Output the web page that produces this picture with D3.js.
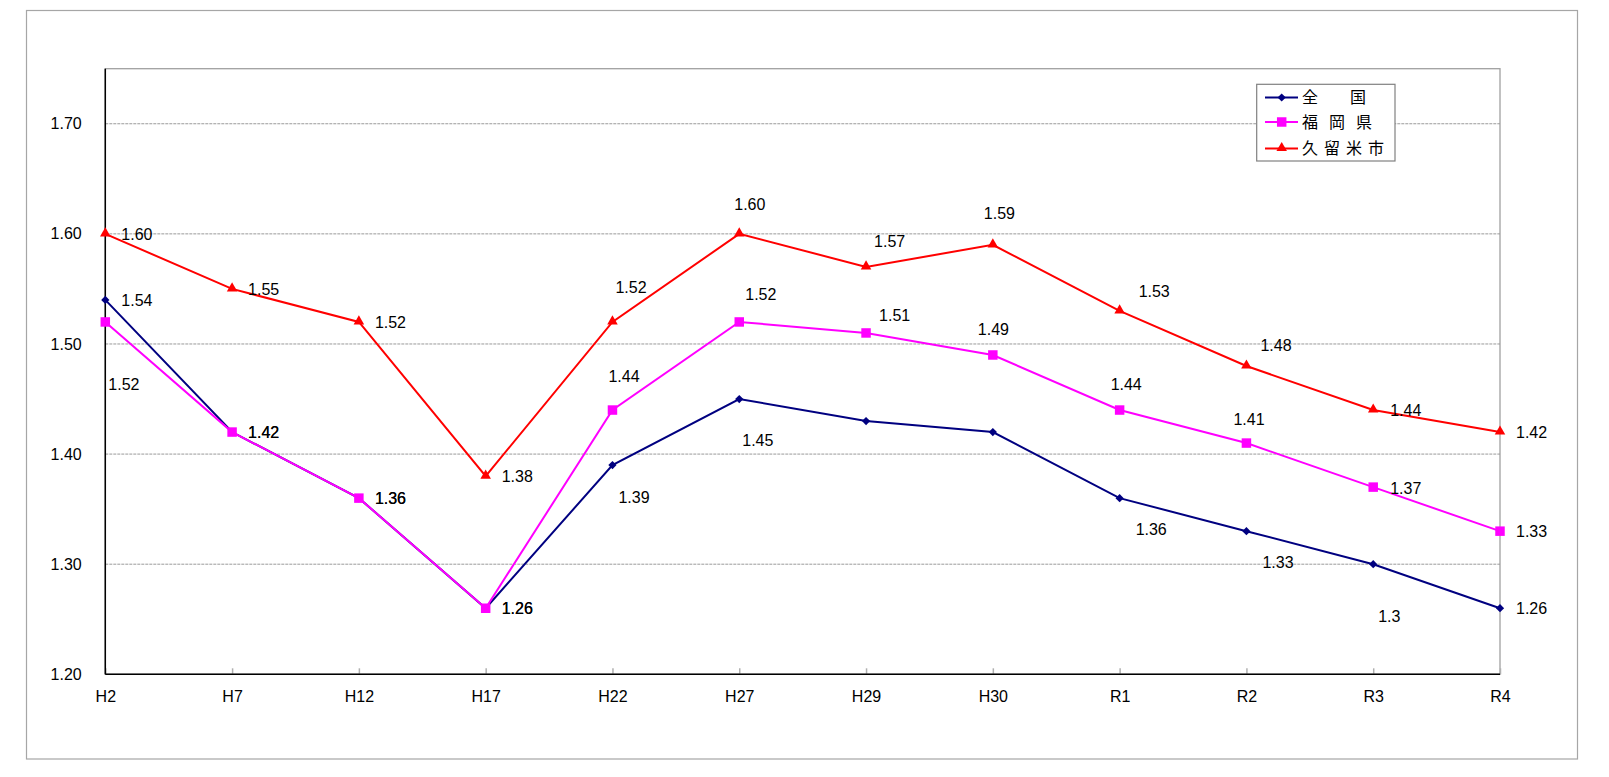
<!DOCTYPE html>
<html>
<head>
<meta charset="utf-8">
<script src="https://cdn.jsdelivr.net/npm/d3@7"></script>
<style>
  html, body { margin: 0; padding: 0; background: #fff; }
  svg { display: block; }
  text { font-family: "Liberation Sans", Arial, sans-serif; fill: #000; }
  .cjk { font-family: "Noto Sans CJK JP", sans-serif; }
</style>
</head>
<body>
<svg id="chart" width="1609" height="777"></svg>
<script>
// ---- data ----
const categories = ["H2","H7","H12","H17","H22","H27","H29","H30","R1","R2","R3","R4"];
const zenkoku = [1.54,1.42,1.36,1.26,1.39,1.45,1.43,1.42,1.36,1.33,1.30,1.26];
const fukuoka = [1.52,1.42,1.36,1.26,1.44,1.52,1.51,1.49,1.44,1.41,1.37,1.33];
const kurume  = [1.60,1.55,1.52,1.38,1.52,1.60,1.57,1.59,1.53,1.48,1.44,1.42];
const seriesNames = ["全　　国", "福 岡 県", "久 留 米 市"];
const yTicks = [1.20,1.30,1.40,1.50,1.60,1.70];
const zenkokuDecimals = [2,2,2,2,2,2,2,2,2,2,1,2];

// ---- label placement (offset of label left edge / vertical centre from point) ----
const zenkokuLabelPos = [[16,0],[16,0],[16,0],[16,0],[6,32],[3,41],null,null,[16,31],[16,31],[5,52],[16,0]];
const fukuokaLabelPos = [[3,62],[16,0],[16,0],[16,0],[-4,-34],[6,-28],[13,-18],[-15,-26],[-9,-26],[-13,-24],[17,1],[16,0]];
const kurumeLabelPos  = [[16,0],[16,0],[16,0],[16,0],[3,-35],[-5,-30],[8,-26],[-9,-32],[19,-20],[14,-21],[17,0],[16,0]];

const series = [
  { name: seriesNames[0], values: zenkoku, color: "#000080", marker: "diamond", labelPos: zenkokuLabelPos, dec: zenkokuDecimals },
  { name: seriesNames[1], values: fukuoka, color: "#FF00FF", marker: "square",  labelPos: fukuokaLabelPos, dec: null },
  { name: seriesNames[2], values: kurume,  color: "#FF0000", marker: "triangle", labelPos: kurumeLabelPos, dec: null }
];
const legendLetterSpacing = [0, 3.7, 1.2];

// ---- layout ----
const svg = d3.select("#chart");
const L = 105.3, R = 1500, T = 68.7, B = 674.3;

const x = d3.scalePoint().domain(categories).range([L, R]);
const y = d3.scaleLinear().domain([1.20, 1.75]).range([B, T]);

// outer frame
svg.append("rect").attr("x", 26.5).attr("y", 10.5).attr("width", 1551).attr("height", 748.5)
  .attr("fill", "#fff").attr("stroke", "#a6a6a6").attr("stroke-width", 1.2);

// plot border (top / right gray)
svg.append("rect").attr("x", L).attr("y", T).attr("width", R - L).attr("height", B - T)
  .attr("fill", "none").attr("stroke", "#a0a0a0").attr("stroke-width", 1.3);

// gridlines
svg.append("g").selectAll("line").data(yTicks.filter(v => v > 1.2)).join("line")
  .attr("x1", L).attr("x2", R).attr("y1", d => y(d)).attr("y2", d => y(d))
  .attr("stroke", "#9a9a9a").attr("stroke-width", 1).attr("stroke-dasharray", "3,1");

// x tick marks (inside, gray)
svg.append("g").attr("transform", `translate(0,${B})`)
  .call(d3.axisBottom(x).tickSize(-6).tickFormat(""))
  .call(g => g.select(".domain").remove())
  .call(g => g.selectAll(".tick line").attr("stroke", "#b0b0b0").attr("stroke-width", 1.5));

// axes labels
const yAxis = svg.append("g").attr("transform", `translate(${L},0)`)
  .call(d3.axisLeft(y).tickValues(yTicks).tickFormat(d3.format(".2f")).tickSize(0).tickPadding(23.6));
yAxis.select(".domain").remove();
yAxis.selectAll("text").attr("font-size", 16).attr("font-family", "Liberation Sans, Arial, sans-serif").attr("fill", "#000");

const xAxis = svg.append("g").attr("transform", `translate(0,${B})`)
  .call(d3.axisBottom(x).tickSize(0).tickPadding(16.7));
xAxis.select(".domain").remove();
xAxis.selectAll("text").attr("font-size", 16).attr("font-family", "Liberation Sans, Arial, sans-serif").attr("fill", "#000");

// black axis lines
svg.append("line").attr("x1", L).attr("x2", L).attr("y1", T).attr("y2", B).attr("stroke", "#000").attr("stroke-width", 1.5);
svg.append("line").attr("x1", L).attr("x2", R).attr("y1", B).attr("y2", B).attr("stroke", "#000").attr("stroke-width", 1.5);

// markers
function markerPath(type) {
  if (type === "diamond") return d3.symbol(d3.symbolSquare, 34)();
  if (type === "square") return d3.symbol(d3.symbolSquare, 90)();
  return d3.symbol(d3.symbolTriangle, 48)();
}
function markerTransform(type, px, py) {
  if (type === "diamond") return `translate(${px},${py}) rotate(45)`;
  if (type === "triangle") return `translate(${px},${py - 0.5})`;
  return `translate(${px},${py})`;
}

const line = d3.line().x((d, i) => x(categories[i])).y(d => y(d));

series.forEach(s => {
  svg.append("path").datum(s.values).attr("d", line)
    .attr("fill", "none").attr("stroke", s.color).attr("stroke-width", 2);
  svg.append("g").selectAll("path").data(s.values).join("path")
    .attr("d", markerPath(s.marker))
    .attr("transform", (d, i) => markerTransform(s.marker, x(categories[i]), y(d)))
    .attr("fill", s.color);
});

// data labels
series.forEach(s => {
  svg.append("g").selectAll("text").data(s.values.map((v, i) => ({ v, i })).filter(d => s.labelPos[d.i]))
    .join("text")
    .attr("x", d => x(categories[d.i]) + s.labelPos[d.i][0])
    .attr("y", d => y(d.v) + s.labelPos[d.i][1])
    .attr("dy", "0.36em")
    .attr("font-size", 16)
    .text(d => d3.format("." + (s.dec ? s.dec[d.i] : 2) + "f")(d.v));
});

// legend
const lg = svg.append("g");
lg.append("rect").attr("x", 1256.7).attr("y", 84.3).attr("width", 138.3).attr("height", 76.7)
  .attr("fill", "#fff").attr("stroke", "#808080").attr("stroke-width", 1.2);
const rowY = [97.5, 122, 148.5];
series.forEach((s, k) => {
  const ry = rowY[k];
  lg.append("line").attr("x1", 1265).attr("x2", 1298).attr("y1", ry).attr("y2", ry)
    .attr("stroke", s.color).attr("stroke-width", 2);
  lg.append("path").attr("d", markerPath(s.marker)).attr("transform", markerTransform(s.marker, 1281.7, ry))
    .attr("fill", s.color);
  lg.append("text").attr("class", "cjk").attr("x", 1302).attr("y", ry).attr("dy", "0.36em")
    .attr("font-size", 16).attr("letter-spacing", legendLetterSpacing[k])
    .style("white-space", "pre").attr("xml:space", "preserve")
    .text(s.name);
});
</script>
</body>
</html>
